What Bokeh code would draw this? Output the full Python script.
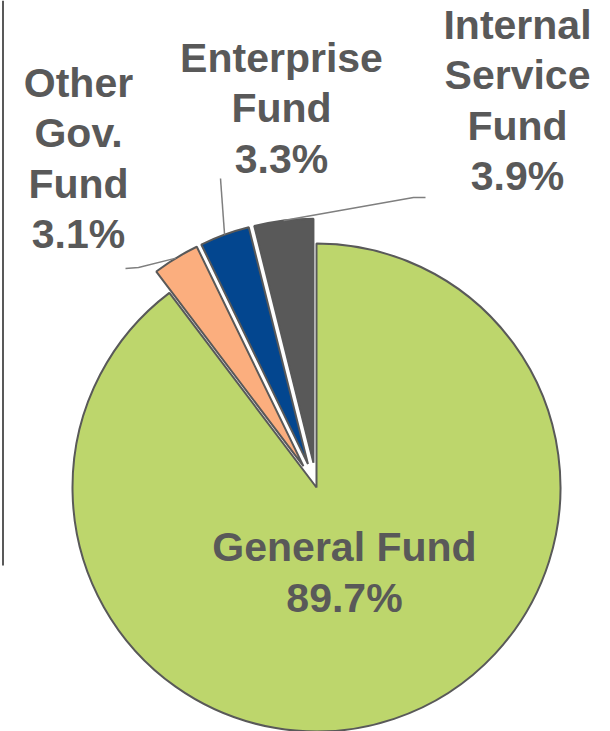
import math
from bokeh.plotting import figure
from bokeh.models import Range1d
from bokeh.embed import file_html
from bokeh.resources import INLINE
from bokeh.core.properties import value

# ---- data ----
categories = ["General Fund", "Other Gov. Fund", "Enterprise Fund", "Internal Service Fund"]
shares = [89.7, 3.1, 3.3, 3.9]
label_names = ["General Fund", "Other\nGov.\nFund", "Enterprise\nFund", "Internal\nService\nFund"]
colors = ["#BDD66C", "#FBAE7E", "#03468F", "#595959"]

# ---- layout (reference pixel space, y measured from top) ----
W, H = 610, 731
explode = [0, 25, 25, 25]
CX, CY, R = 316, 487, 244
label_pos = [(344, 572), (78, 158), (281, 108), (517, 100)]
leader_elbows = [None, [(138, 267), (125, 268)], [(220, 178)], [(413, 197), (425, 197)]]

def fy(y):
    return H - y

p = figure(width=W, height=H, x_range=Range1d(0, W), y_range=Range1d(0, H),
           output_backend="svg", toolbar_location=None, min_border=0)
p.axis.visible = False
p.grid.visible = False
p.outline_line_color = None
p.background_fill_color = "white"
p.border_fill_color = "white"

total = sum(shares)
ang = math.pi / 2  # start at 12 o'clock, go clockwise
xs, ys, starts, ends, bis = [], [], [], [], []
for s, d in zip(shares, explode):
    sweep = 2 * math.pi * s / total
    a_end = ang
    a_start = ang - sweep
    ang = a_start
    mid = (a_start + a_end) / 2
    xs.append(CX + d * math.cos(mid))
    ys.append(fy(CY) + d * math.sin(mid))
    starts.append(a_start)
    ends.append(a_end)
    bis.append(mid)

p.wedge(x=xs, y=ys, radius=R, start_angle=starts, end_angle=ends,
        fill_color=colors, line_color="#595959", line_width=2)

# leader lines from slice bisector on the outer arc
for i in range(len(shares)):
    if leader_elbows[i] is None:
        continue
    ox = xs[i] + R * math.cos(bis[i])
    oy = ys[i] + R * math.sin(bis[i])
    lx = [ox] + [e[0] for e in leader_elbows[i]]
    ly = [oy] + [fy(e[1]) for e in leader_elbows[i]]
    p.line(lx, ly, line_color="#7F7F7F", line_width=1.5)

texts = [f"{n}\n{v:.1f}%" for n, v in zip(label_names, shares)]
p.text(x=[lp[0] for lp in label_pos], y=[fy(lp[1]) for lp in label_pos], text=texts,
       text_align="center", text_baseline="middle",
       text_font=value("Liberation Sans"), text_font_style="bold",
       text_font_size="41px", text_color="#595959", text_line_height=1.1)

# left rule
p.line([2.5, 2.5], [fy(0), fy(565)], line_color="#595959", line_width=2)

open("out.html", "w").write(file_html(p, INLINE))
